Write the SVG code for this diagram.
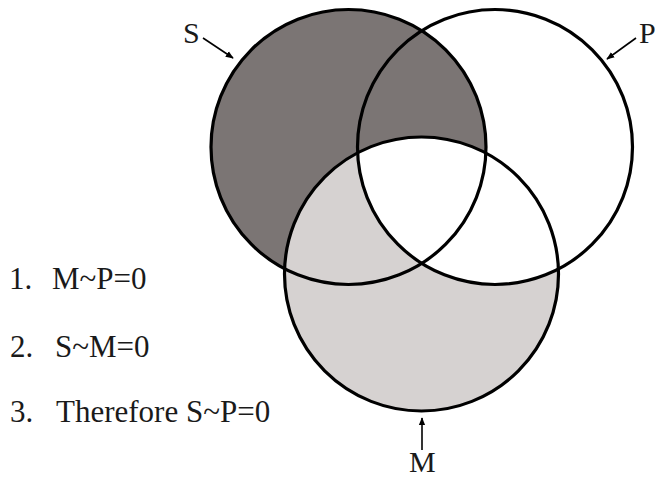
<svg xmlns="http://www.w3.org/2000/svg" width="655" height="478" viewBox="0 0 655 478">
  <style>
    .ring { fill: none; stroke: #000; stroke-width: 3.2; }
    .lbl { font-family: "Liberation Serif", "Times New Roman", serif; font-size: 30px; fill: #1a1a1a; }
    .stm { font-family: "Liberation Serif", "Times New Roman", serif; font-size: 31px; fill: #1a1a1a; }
    .arrow { stroke: #000; stroke-width: 1.6; fill: none; marker-end: url(#ah); }
  </style>
  <defs>
    <marker id="ah" viewBox="0 0 10 10" refX="9" refY="5" markerWidth="5" markerHeight="5" orient="auto" markerUnits="strokeWidth">
      <path d="M0,1 L10,5 L0,9 Z" fill="#000"/>
    </marker>
    <clipPath id="clipP">
      <circle cx="495" cy="147" r="137.5"/>
    </clipPath>
  </defs>
  <rect width="655" height="478" fill="#fff"/>
  <g id="shading">
    <circle cx="348.5" cy="147" r="137.5" fill="#7b7574"/>
    <circle cx="421.5" cy="274" r="137" fill="#d6d2d1"/>
    <circle cx="421.5" cy="274" r="137" fill="#fff" clip-path="url(#clipP)"/>
  </g>
  <g id="node-S">
    <circle class="ring" cx="348.5" cy="147" r="137.5"/>
    <text class="lbl" x="183" y="43">S</text>
  </g>
  <g id="node-P">
    <circle class="ring" cx="495" cy="147" r="137.5"/>
    <text class="lbl" x="639" y="43">P</text>
  </g>
  <g id="node-M">
    <circle class="ring" cx="421.5" cy="274" r="137"/>
    <text class="lbl" x="409" y="472">M</text>
  </g>
  <g id="connectors">
    <line class="arrow" x1="203" y1="38" x2="233" y2="58"/>
    <line class="arrow" x1="636" y1="38" x2="607" y2="59"/>
    <line class="arrow" x1="422" y1="450" x2="422" y2="418"/>
  </g>
  <g id="statements">
    <text class="stm" x="9" y="289">1.</text>
    <text class="stm" x="52" y="289">M~P=0</text>
    <text class="stm" x="10" y="357">2.</text>
    <text class="stm" x="55" y="357">S~M=0</text>
    <text class="stm" x="10" y="422">3.</text>
    <text class="stm" x="56" y="422">Therefore S~P=0</text>
  </g>
</svg>
